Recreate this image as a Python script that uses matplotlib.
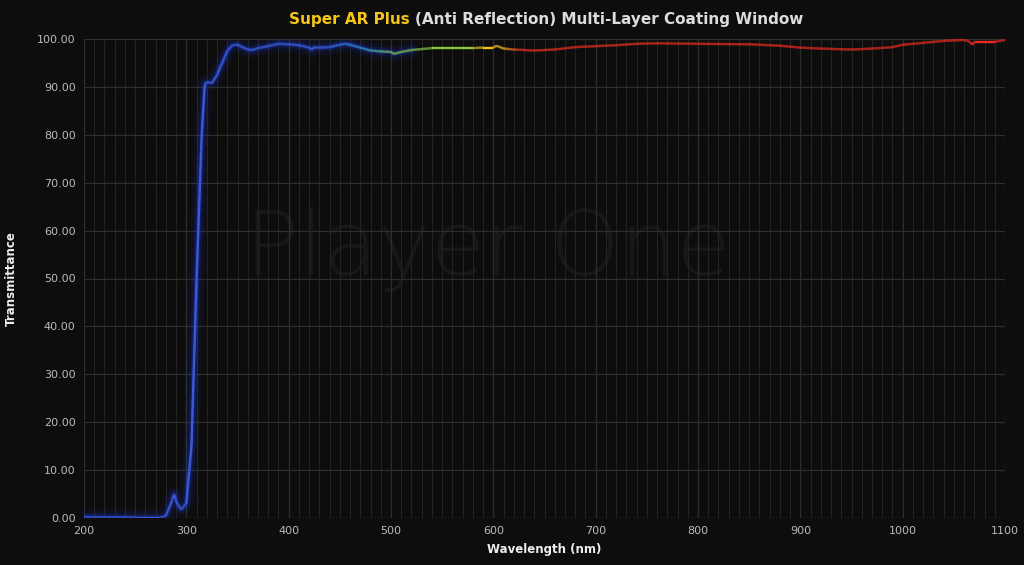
import numpy as np
import matplotlib
matplotlib.use("Agg")
import matplotlib.pyplot as plt
from matplotlib.collections import LineCollection
from matplotlib.colors import LinearSegmentedColormap

plt.rcParams['font.family'] = ['DejaVu Sans']

wavelength = [200, 250, 275, 280, 285, 288, 291, 295, 300, 305, 310, 315, 318, 320, 325, 330, 335, 340,
              345, 350, 355, 360, 365, 370, 380, 390, 400, 410, 420, 423, 425, 430, 440, 450, 455,
              460, 470, 480, 490, 500, 503, 510, 520, 530, 540, 560, 580, 590, 600, 603, 610, 620,
              640, 660, 680, 700, 720, 740, 760, 800, 850, 880, 900, 920, 950, 970, 990, 1000,
              1020, 1040, 1060, 1065, 1068, 1070, 1090, 1100]
transmittance = [0.2, 0.1, 0.1, 0.5, 3, 5, 3, 1.8, 3, 15, 50, 80, 90.5, 91, 90.8, 92.5, 95, 97.5,
                 98.7, 98.8, 98.3, 97.8, 97.7, 98.1, 98.5, 99, 98.9, 98.7, 98.2, 97.8, 98.3, 98.2,
                 98.3, 98.8, 99, 98.8, 98.2, 97.6, 97.4, 97.3, 96.9, 97.3, 97.7, 97.9, 98.1, 98.1,
                 98.1, 98.2, 98.2, 98.6, 98, 97.8, 97.6, 97.8, 98.3, 98.5, 98.7, 99, 99.1, 99,
                 98.9, 98.6, 98.2, 98, 97.8, 98, 98.3, 98.8, 99.2, 99.6, 99.8, 99.5, 98.8, 99.4,
                 99.4, 99.8]

x = np.array(wavelength, float)
y = np.array(transmittance, float)

fig = plt.figure(figsize=(10.24, 5.65), dpi=100)
fig.patch.set_facecolor('#0d0d0d')
ax = fig.add_axes([84/1024, 1-518/565, (1005-84)/1024, (518-39)/565])
ax.set_facecolor('#0d0d0d')
ax.set_xlim(200, 1100)
ax.set_ylim(0, 100)
ax.set_xticks(np.arange(200, 1101, 100))
ax.set_xticks(np.arange(200, 1101, 10), minor=True)
ax.set_yticks(np.arange(0, 101, 10))
ax.set_yticklabels([f"{v:.2f}" for v in range(0, 101, 10)])
ax.grid(which='major', axis='both', color='#2e2e2e', lw=0.9)
ax.grid(which='minor', axis='x', color='#242424', lw=0.7)
ax.tick_params(which='both', length=0, colors='#bbbbbb', labelsize=8, pad=6)
for s in ax.spines.values():
    s.set_visible(False)
ax.set_axisbelow(True)

ax.text(595, 56, "Player One", fontsize=64, color='#181818', ha='center', va='center',
        fontweight='light', zorder=0)

def norm(w):
    return (w - 200) / 900

mask = x <= 520
for lw, a in [(11, 0.07), (6, 0.12), (3.5, 0.2)]:
    ax.plot(x[mask], y[mask], color='#2040ff', lw=lw, alpha=a, solid_capstyle='round')

xf = np.linspace(200, 1100, 2400)
yf = np.interp(xf, x, y)
pts = np.column_stack([xf, yf]).reshape(-1, 1, 2)
segs = np.concatenate([pts[:-1], pts[1:]], axis=1)
cmap = LinearSegmentedColormap.from_list('spec', [
    (0.0, '#3a55d8'), (norm(440), '#3a62d8'), (norm(470), '#2a90d0'), (norm(500), '#7cc04a'),
    (norm(575), '#8cc63f'), (norm(590), '#f0c020'), (norm(610), '#f0b020'), (norm(625), '#e83020'),
    (1.0, '#e82a20')])
lc = LineCollection(segs, cmap=cmap, norm=plt.Normalize(200, 1100), lw=1.7)
lc.set_array(xf[:-1])
ax.add_collection(lc)

ax.set_xlabel("Wavelength (nm)", color='#eeeeee', fontsize=8.5, fontweight='bold', labelpad=5)
ax.set_ylabel("Transmittance", color='#eeeeee', fontsize=8.5, fontweight='bold', labelpad=14)

fig.text(0.405, 0.965, "Super AR Plus ", color='#f5c518', fontsize=11, fontweight='bold',
         ha='right', va='center')
fig.text(0.405, 0.965, "(Anti Reflection) Multi-Layer Coating Window", color='#dddddd',
         fontsize=11, fontweight='bold', ha='left', va='center')
fig.savefig("out.png", dpi=100, facecolor=fig.get_facecolor())
